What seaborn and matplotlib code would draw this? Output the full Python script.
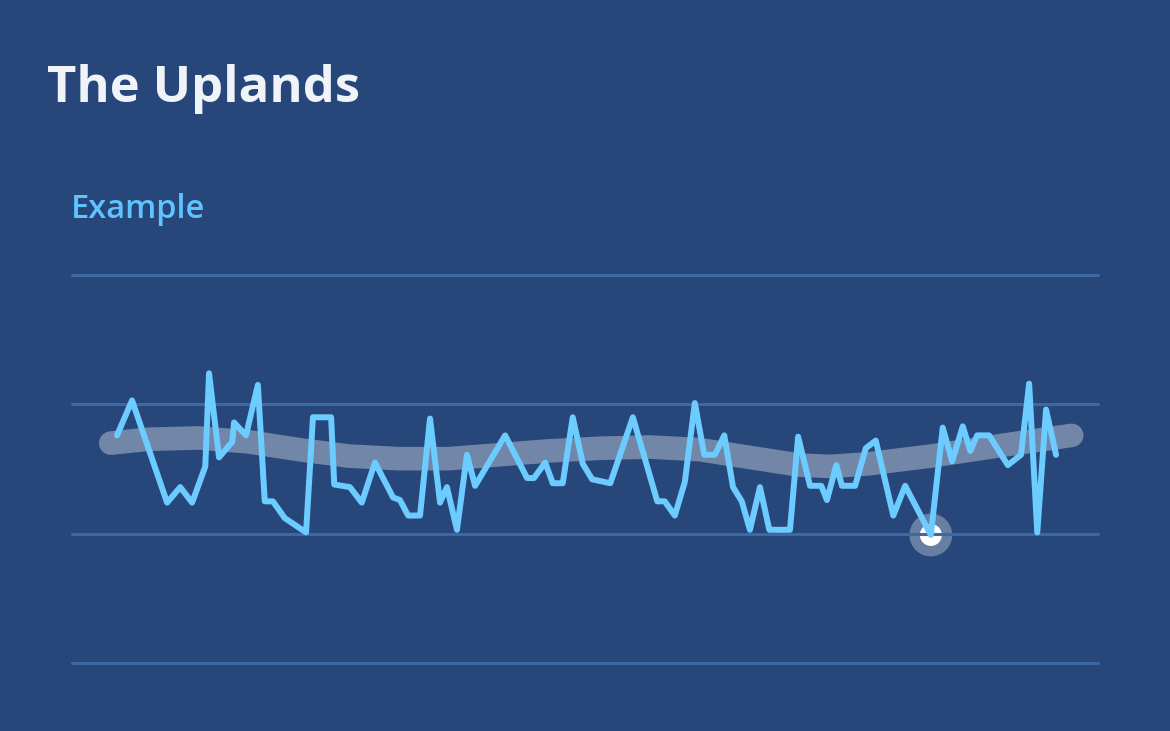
import numpy as np
import pandas as pd
import matplotlib
matplotlib.use("Agg")
import matplotlib.pyplot as plt
import seaborn as sns

# ---- data ----
t = [0.0, 2.4, 8.0, 10.1, 12.0, 14.1, 14.7, 16.3, 18.4, 18.7, 20.6, 22.5, 23.6, 24.9,
     26.8, 30.2, 31.3, 34.2, 34.7, 37.2, 39.1, 41.2, 44.1, 45.2, 46.5, 48.4, 50.0, 51.6,
     52.7, 54.3, 55.9, 57.2, 62.0, 65.5, 66.6, 68.4, 69.6, 71.2, 72.8, 74.4, 75.9, 78.8,
     82.4, 86.3, 87.5, 89.1, 90.7, 92.3, 93.8, 95.5, 97.0, 98.4, 99.8, 101.1, 102.7,
     104.2, 107.5, 108.8, 110.7, 112.5, 113.4, 114.9, 115.8, 117.9, 119.6, 121.2, 124.0,
     125.9, 130.0, 131.9, 133.4, 135.1, 136.3, 137.4, 139.3, 142.3, 144.4, 145.7, 147.0,
     148.4, 150.0]
values = [17.6, 20.3, 12.4, 13.6, 12.4, 15.2, 22.4, 15.9, 17.1, 18.6, 17.6, 21.5, 12.5, 12.5,
          11.2, 10.1, 19.0, 19.0, 13.8, 13.6, 12.4, 15.5, 12.8, 12.6, 11.4, 11.4, 18.9, 12.4,
          13.6, 10.3, 16.1, 13.7, 17.6, 14.3, 14.3, 15.5, 13.9, 13.9, 19.0, 15.4, 14.2, 13.9,
          19.0, 12.5, 12.5, 11.4, 14.0, 20.1, 16.1, 16.1, 17.6, 13.6, 12.5, 10.3, 13.6,
          10.3, 10.3, 17.5, 13.7, 13.7, 12.6, 15.3, 13.7, 13.7, 16.6, 17.2, 11.4,
          13.7, 9.9, 18.2, 15.6, 18.3, 16.4, 17.6, 17.6, 15.3, 16.1, 21.6, 10.1,
          19.6, 16.1]

trend_t = [-1.0, 5, 13, 21, 29, 37, 45, 53, 61, 69, 77, 85, 93, 101, 109, 114, 120, 130, 141, 152.5]
trend_v = [17.0, 17.3, 17.4, 17.1, 16.5, 16.0, 15.8, 15.8, 16.1, 16.4, 16.6, 16.7, 16.5,
           15.9, 15.3, 15.2, 15.4, 16.0, 16.8, 17.6]

y_ticks = [0, 10, 20, 30]
title = "The Uplands"
subtitle = "Example"

# ---- style ----
BG = "#27477a"
GRID = "#3b69a6"
LINE = "#6ccbff"

sns.set_theme(style="white")
plt.rcParams["font.family"] = ["Open Sans", "DejaVu Sans"]

fig = plt.figure(figsize=(11.7, 7.31), dpi=100, facecolor=BG)
ax = fig.add_axes([72 / 1170, 1 - 663 / 731, (1098 - 72) / 1170, (663 - 275) / 731])
ax.set_facecolor(BG)

df = pd.DataFrame({"t": t, "v": values})
tr = pd.DataFrame({"t": trend_t, "v": trend_v})

# min marker (halo + dot), below gridlines
imin = int(np.argmin(values))
mdf = df.iloc[[imin]]
sns.scatterplot(data=mdf, x="t", y="v", ax=ax, s=950, color="white", alpha=0.3,
                edgecolor="none", zorder=1, legend=False)
sns.scatterplot(data=mdf, x="t", y="v", ax=ax, s=250, color="white",
                edgecolor="none", zorder=1.5, legend=False)

for yv in y_ticks:
    ax.axhline(yv, color=GRID, lw=2.2, zorder=2, clip_on=False)

sns.lineplot(data=tr, x="t", y="v", ax=ax, color="white", alpha=0.35, lw=17,
             solid_capstyle="round", solid_joinstyle="round", zorder=3)
sns.lineplot(data=df, x="t", y="v", ax=ax, color=LINE, lw=4.3,
             solid_joinstyle="round", solid_capstyle="round", zorder=4)

ax.set_xlim(-7.19, 156.7)
ax.set_ylim(0, 30)
ax.set_xticks([])
ax.set_yticks([])
ax.set_xlabel("")
ax.set_ylabel("")
for s in ax.spines.values():
    s.set_visible(False)

fig.text(0.040, 1 - 102 / 731, title, color="#f0f3f8", fontsize=36.5,
         fontweight="bold", va="baseline", ha="left")
fig.text(0.0605, 1 - 218 / 731, subtitle, color="#5fc3ff", fontsize=23.5,
         fontweight="semibold", va="baseline", ha="left")

fig.savefig("out.png", dpi=100, facecolor=BG)
